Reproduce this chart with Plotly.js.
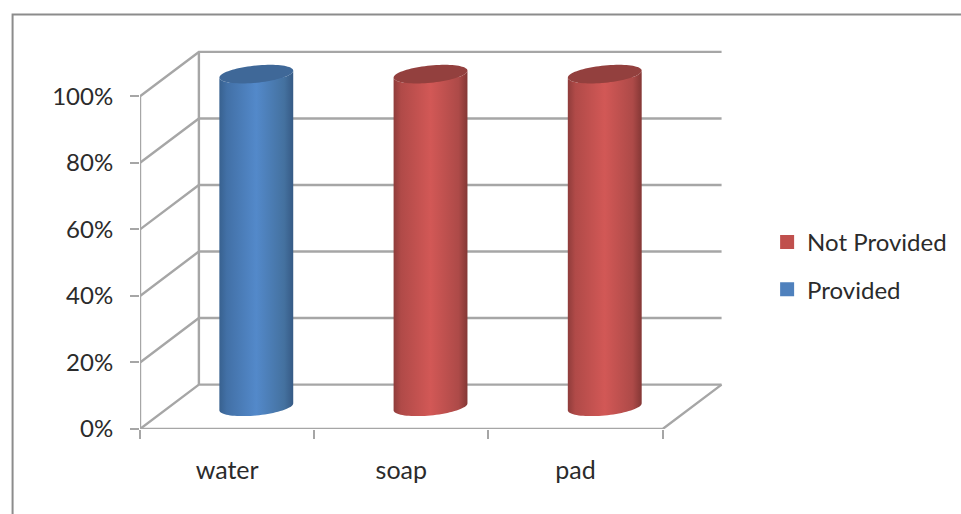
<!DOCTYPE html>
<html>
<head>
<meta charset="utf-8">
<script src="https://cdn.plot.ly/plotly-3.0.1.min.js"></script>
<style>html,body{margin:0;padding:0;background:#fff}#chart{width:961px;height:514px}</style>
</head>
<body>
<div id="chart"></div>
<script>
// Share of sites by provision status
const categories = ['water', 'soap', 'pad'];
const provided = [100, 0, 0];
const notProvided = [0, 100, 100];
const percentTicks = [0, 20, 40, 60, 80, 100];
const percentLabels = ['0%', '20%', '40%', '60%', '80%', '100%'];

// Oblique projection of the chart box, in axis units
const DEPTH_X = 0.338;
const DEPTH_Y = 13.35;
const RADIUS_X = 0.212;
const RADIUS_Y = 2.6;
const TILT = 1.05;

// Plot area placement on the page; it spans to the page edge so the legend sits inside it
const W = 961, H = 514;
const M = {l: 139.5, r: 0, t: 29.5, b: 84.5};
const PW = W - M.l - M.r, PH = H - M.t - M.b;

const GRID = '#a6a6a6';
const TEXT = '#2b2b2b';
const FONT = 'Lato, "Open Sans", sans-serif';

const palette = {
  blue: {legend: '#4f81bd', cap: '#3f6898', body: [[0, '#38618f'], [0.1, '#4270a6'], [0.5, '#5389ca'], [0.88, '#44719f'], [1, '#365a85']]},
  red: {legend: '#c0504d', cap: '#93403e', body: [[0, '#8f3c3b'], [0.1, '#b04a48'], [0.5, '#d25856'], [0.88, '#ad4a48'], [1, '#843735']]}
};

function lineTrace(xs, ys) {
  return {x: xs, y: ys, type: 'scatter', mode: 'lines', cliponaxis: false, hoverinfo: 'skip',
          showlegend: false, line: {color: GRID, width: 2.4, simplify: false}};
}

// Front half of the sheared ellipse at a given level, left to right
function frontArc(cx, level) {
  const xs = [], ys = [];
  for (let i = 0; i <= 40; i++) {
    const t = Math.PI + Math.PI * i / 40;
    xs.push(cx + RADIUS_X * Math.cos(t));
    ys.push(level + TILT * Math.cos(t) + RADIUS_Y * Math.sin(t));
  }
  return {xs, ys};
}

function capOutline(cx, level) {
  const xs = [], ys = [];
  for (let i = 0; i <= 80; i++) {
    const t = 2 * Math.PI * i / 80;
    xs.push(cx + RADIUS_X * Math.cos(t));
    ys.push(level + TILT * Math.cos(t) + RADIUS_Y * Math.sin(t));
  }
  return {xs, ys};
}

function cylinderTraces(catIndex, from, to, colours) {
  const cx = catIndex + 0.5 + 0.335 / 2;
  const low = from + DEPTH_Y / 2, high = to + DEPTH_Y / 2;
  const bottom = frontArc(cx, low), top = frontArc(cx, high);
  const bodyX = bottom.xs.concat(top.xs.slice().reverse());
  const bodyY = bottom.ys.concat(top.ys.slice().reverse());
  bodyX.push(bodyX[0]); bodyY.push(bodyY[0]);
  const cap = capOutline(cx, high);
  return [
    {x: bodyX, y: bodyY, type: 'scatter', mode: 'none', fill: 'toself', cliponaxis: false, showlegend: false, hoverinfo: 'skip',
     fillgradient: {type: 'horizontal', start: cx - RADIUS_X, stop: cx + RADIUS_X, colorscale: colours.body}},
    {x: cap.xs, y: cap.ys, type: 'scatter', mode: 'none', fill: 'toself', cliponaxis: false, showlegend: false, hoverinfo: 'skip',
     fillcolor: colours.cap}
  ];
}

const barX = categories.map((c, i) => i + 0.5 + DEPTH_X / 2);
const barBase = categories.map(() => DEPTH_Y / 2);

const traces = [
  {name: 'Not Provided', type: 'bar', x: barX, y: notProvided, base: barBase, width: 0.3, legendgroup: 'b',
   marker: {color: palette.red.legend, line: {color: palette.red.legend, width: 2}}, hoverinfo: 'skip'},
  {name: 'Provided', type: 'bar', x: barX, y: provided, base: barBase, width: 0.3, legendgroup: 'a',
   marker: {color: palette.blue.legend, line: {color: palette.blue.legend, width: 2}}, hoverinfo: 'skip'}
];

// Box: the floor, the side walls, and one bent gridline per tick
const CATS = categories.length;
percentTicks.forEach(v => {
  traces.push(lineTrace([0, DEPTH_X, CATS + DEPTH_X], [v, v + DEPTH_Y, v + DEPTH_Y]));
});
traces.push(lineTrace([DEPTH_X, DEPTH_X], [DEPTH_Y, 100 + DEPTH_Y]));
traces.push(lineTrace([0, 0], [0, 100]));
traces.push(lineTrace([0, CATS, CATS + DEPTH_X], [0, 0, DEPTH_Y]));

categories.forEach((c, i) => {
  if (provided[i] > 0) traces.push(...cylinderTraces(i, 0, provided[i], palette.blue));
  if (notProvided[i] > 0) traces.push(...cylinderTraces(i, provided[i], provided[i] + notProvided[i], palette.red));
});

const layout = {
  width: W, height: H,
  margin: {l: M.l, r: M.r, t: M.t, b: M.b, pad: 0},
  paper_bgcolor: '#ffffff', plot_bgcolor: 'rgba(0,0,0,0)',
  barmode: 'overlay',
  font: {family: FONT, color: TEXT, size: 22},
  showlegend: true,
  legend: {
    x: (767 - M.l) / PW, y: 1 - (220 - M.t) / PH, xanchor: 'left', yanchor: 'top',
    traceorder: 'grouped', tracegroupgap: 13, bgcolor: 'rgba(0,0,0,0)',
    font: {family: FONT, size: 24, color: TEXT}
  },
  xaxis: {
    range: [0, PW / (523 / 3)], showgrid: false, zeroline: false, showline: false,
    tickmode: 'array', tickvals: categories.map((c, i) => i + 0.5), ticktext: categories,
    ticks: '', ticklabelstandoff: 24, tickfont: {family: FONT, size: 25, color: TEXT},
    minor: {tickmode: 'array', tickvals: [0, 1, 2, 3], ticks: 'outside', ticklen: 9, tickwidth: 2, tickcolor: GRID, showgrid: false}
  },
  yaxis: {
    range: [0, PH / 3.335], showgrid: false, zeroline: false, showline: false,
    tickmode: 'array', tickvals: percentTicks, ticktext: percentLabels,
    ticks: 'outside', ticklen: 9, tickwidth: 2, tickcolor: GRID,
    ticklabelstandoff: 12, tickfont: {family: FONT, size: 24, color: TEXT}
  },
  shapes: [{
    type: 'rect', xref: 'paper', yref: 'paper', layer: 'below',
    x0: (12 - M.l) / PW, x1: (W + 10 - M.l) / PW,
    y0: 1 - (H + 10 - M.t) / PH, y1: 1 - (14 - M.t) / PH,
    line: {color: '#8c8c8c', width: 2}, fillcolor: 'rgba(0,0,0,0)'
  }]
};

Plotly.newPlot('chart', traces, layout, {displayModeBar: false, responsive: false});
</script>
</body>
</html>
